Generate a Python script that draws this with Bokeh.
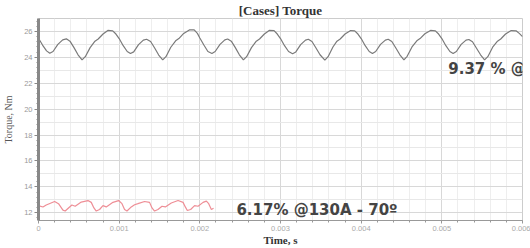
from bokeh.plotting import figure
from bokeh.models import FixedTicker, Label, NumeralTickFormatter, Range1d
from bokeh.embed import file_html
from bokeh.resources import INLINE

# ---- data ----
t_gray = [
    0.0, 0.00005, 0.0001, 0.00014, 0.00018, 0.00024, 0.0003, 0.000345, 0.00039, 0.00044,
    0.00049, 0.00054, 0.00058, 0.00064, 0.0007, 0.00074, 0.0008, 0.00086, 0.00092, 0.00096,
    0.001, 0.00105, 0.0011, 0.00114, 0.00118, 0.00124, 0.0013, 0.00134, 0.00139, 0.00144,
    0.00149, 0.00154, 0.00158, 0.00164, 0.0017, 0.00174, 0.0018, 0.00187, 0.00193, 0.00197,
    0.002, 0.00205, 0.0021, 0.00215, 0.00219, 0.00225, 0.00231, 0.002345, 0.00239, 0.00244,
    0.00249, 0.00254, 0.00258, 0.00264, 0.0027, 0.00274, 0.0028, 0.00286, 0.00292, 0.00296,
    0.003, 0.00305, 0.0031, 0.00315, 0.00319, 0.00325, 0.00331, 0.003345, 0.00339, 0.00344,
    0.00349, 0.00355, 0.00359, 0.00365, 0.0037, 0.00374, 0.0038, 0.00387, 0.00392, 0.00396,
    0.004, 0.00405, 0.0041, 0.00414, 0.00418, 0.00424, 0.0043, 0.004335, 0.00438, 0.00443,
    0.00448, 0.00453, 0.00457, 0.00463, 0.00469, 0.00473, 0.00479, 0.00486, 0.00492, 0.00496,
    0.005, 0.00505, 0.0051, 0.00514, 0.00518, 0.00524, 0.0053, 0.005335, 0.00538, 0.00543,
    0.00548, 0.00553, 0.00557, 0.00563, 0.00569, 0.00573, 0.00579, 0.00586, 0.00592, 0.00596,
    0.006,
]
torque_gray = [
    25.48, 24.95, 24.5, 24.32, 24.45, 25.0, 25.35, 25.43, 25.25, 24.75,
    24.2, 23.8, 24.05, 24.75, 25.25, 25.42, 25.8, 26.08, 26.05, 25.8,
    25.45, 24.9, 24.45, 24.3, 24.42, 24.98, 25.33, 25.4, 25.22, 24.72,
    24.18, 23.8, 24.05, 24.78, 25.28, 25.45, 25.85, 26.12, 26.12, 25.85,
    25.5, 24.95, 24.45, 24.3, 24.45, 25.0, 25.35, 25.42, 25.25, 24.75,
    24.2, 23.8, 24.05, 24.75, 25.25, 25.42, 25.8, 26.08, 26.06, 25.8,
    25.45, 24.9, 24.45, 24.28, 24.42, 24.98, 25.33, 25.4, 25.22, 24.72,
    24.2, 23.78, 24.05, 24.8, 25.25, 25.42, 25.8, 26.07, 26.05, 25.8,
    25.45, 24.9, 24.45, 24.3, 24.45, 25.0, 25.33, 25.4, 25.22, 24.72,
    24.2, 23.8, 24.08, 24.8, 25.28, 25.45, 25.82, 26.08, 26.05, 25.8,
    25.45, 24.9, 24.45, 24.3, 24.45, 25.0, 25.33, 25.38, 25.2, 24.7,
    24.2, 23.8, 24.05, 24.78, 25.25, 25.42, 25.8, 26.07, 26.05, 25.85,
    25.6,
]

t_red = [
    0.0, 0.000055, 0.000096, 0.0002, 0.000248, 0.000303, 0.000331, 0.000372, 0.000414, 0.000455,
    0.00053, 0.000613, 0.000654, 0.000687, 0.000716, 0.000757, 0.000799, 0.00084, 0.000923, 0.000993,
    0.001035, 0.001067, 0.001097, 0.00115, 0.001191, 0.001233, 0.001315, 0.001377, 0.001407, 0.001439,
    0.001481, 0.001531, 0.001572, 0.001646, 0.00173, 0.001792, 0.00182, 0.001845, 0.001886, 0.001935,
    0.001978, 0.00204, 0.002081, 0.00211, 0.002143, 0.00217,
]
torque_red = [
    12.55, 12.44, 12.6, 12.87, 12.7, 12.2, 12.13, 12.37, 12.6, 12.5,
    12.82, 12.94, 12.8, 12.37, 12.13, 12.25, 12.55, 12.45, 12.8, 12.94,
    12.7, 12.25, 12.13, 12.45, 12.62, 12.7, 12.87, 12.8, 12.37, 12.13,
    12.25, 12.5, 12.45, 12.75, 12.94, 12.8, 12.45, 12.17, 12.25, 12.55,
    12.5, 12.8, 12.9, 12.7, 12.25, 12.35,
]

x_ticks = [0.0, 0.001, 0.002, 0.003, 0.004, 0.005, 0.006]
y_ticks = [12, 14, 16, 18, 20, 22, 24, 26]
y_grid_minor = [13, 15, 17, 19, 21, 23, 25]
x_minor = [round(i * 0.0002, 6) for i in range(31)]
y_minor = [round(11.6 + i * 0.4, 2) for i in range(39)]

title_text = "[Cases] Torque"
xlabel = "Time, s"
ylabel = "Torque, Nm"
note_gray = "9.37 % @"
note_red = "6.17% @130A - 70\u00ba"

# ---- figure ----
p = figure(width=530, height=248, output_backend="svg", toolbar_location=None,
           x_range=Range1d(0, 0.006), y_range=Range1d(11.4, 27),
           min_border_left=37, min_border_right=8, min_border_top=0, min_border_bottom=0)
p.background_fill_color = "white"
p.border_fill_color = "white"
p.outline_line_color = "#cccccc"

p.title.text = title_text
p.title.align = "center"
p.title.text_font = "Liberation Serif"
p.title.text_font_style = "bold"
p.title.text_font_size = "13px"
p.title.text_color = "#333333"
p.title.standoff = 1
p.title.offset = 0

# x axis
xa = p.xaxis[0]
xa.ticker = FixedTicker(ticks=x_ticks, minor_ticks=x_minor)
xa.formatter = NumeralTickFormatter(format="0.[000]")
xa.axis_line_color = "#999999"
xa.major_tick_line_color = "#999999"
xa.minor_tick_line_color = "#999999"
xa.major_tick_in = 0
xa.major_tick_out = 3
xa.minor_tick_in = 0
xa.minor_tick_out = 2
xa.major_label_standoff = 2
xa.major_label_text_font = "Liberation Sans"
xa.major_label_text_font_size = "7.5px"
xa.major_label_text_color = "#aaaaaa"
xa.axis_label = xlabel
xa.axis_label_standoff = 0
xa.axis_label_text_font = "Liberation Serif"
xa.axis_label_text_font_style = "bold"
xa.axis_label_text_font_size = "11px"
xa.axis_label_text_color = "#333333"

# y axis
ya = p.yaxis[0]
ya.ticker = FixedTicker(ticks=y_ticks, minor_ticks=y_minor)
ya.axis_line_color = "#888888"
ya.axis_line_width = 3
ya.major_tick_line_color = "#888888"
ya.minor_tick_line_color = "#888888"
ya.major_tick_in = 0
ya.major_tick_out = 4
ya.minor_tick_in = 0
ya.minor_tick_out = 2
ya.major_label_standoff = 2
ya.major_label_text_font = "Liberation Sans"
ya.major_label_text_font_size = "7.5px"
ya.major_label_text_color = "#999999"
ya.axis_label = ylabel
ya.axis_label_standoff = 7
ya.axis_label_text_font = "Liberation Serif"
ya.axis_label_text_font_style = "normal"
ya.axis_label_text_font_size = "10px"
ya.axis_label_text_color = "#555555"

# grids
p.xgrid.ticker = FixedTicker(ticks=x_ticks, minor_ticks=x_minor)
p.xgrid.grid_line_color = "#d8d8d8"
p.xgrid.minor_grid_line_color = "#eeeeee"
p.ygrid.ticker = FixedTicker(ticks=y_ticks, minor_ticks=y_grid_minor)
p.ygrid.grid_line_color = "#d8d8d8"
p.ygrid.minor_grid_line_color = "#e8e8e8"

# curves
p.line(t_gray, torque_gray, line_color="#7a7a7a", line_width=1.2)
p.line(t_red, torque_red, line_color="#ee8e96", line_width=1.2)

# annotations
p.add_layout(Label(x=0.00508, y=23.08, text=note_gray, text_font="DejaVu Sans",
                   text_font_style="bold", text_font_size="15px", text_color="#444444",
                   text_baseline="alphabetic"))
p.add_layout(Label(x=0.002453, y=12.2, text=note_red, text_font="DejaVu Sans",
                   text_font_style="bold", text_font_size="15px", text_color="#444444",
                   text_baseline="alphabetic"))

open("out.html", "w").write(file_html(p, INLINE))
